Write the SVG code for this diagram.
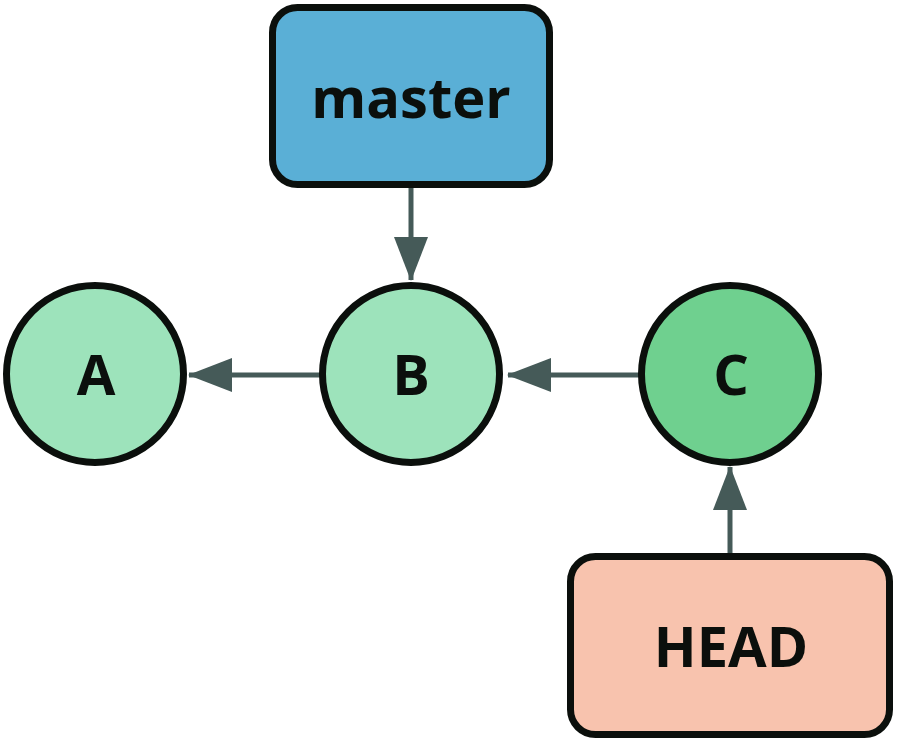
<svg xmlns="http://www.w3.org/2000/svg" width="899" height="745" viewBox="0 0 899 745">
<style>
.box{stroke:#0b0f0c;stroke-width:7}
.commit{stroke:#0b0f0c;stroke-width:7}
.lbl{font-family:"Open Sans","Noto Sans","DejaVu Sans",sans-serif;font-weight:bold;font-size:56px;fill:#0b0f0c;text-anchor:middle}
.edge{stroke:#455a58;stroke-width:5;fill:none}
</style>
<defs>
<marker id="arr" markerUnits="userSpaceOnUse" markerWidth="44" markerHeight="34" refX="43" refY="17" orient="auto">
<path d="M0,0 L44,17 L0,34 Z" fill="#455a58"/>
</marker>
</defs>
<rect width="899" height="745" fill="#ffffff"/>
<g id="connectors">
<line class="edge" x1="411" y1="188" x2="411" y2="280" marker-end="url(#arr)"/>
<line class="edge" x1="322" y1="375" x2="189" y2="375" marker-end="url(#arr)"/>
<line class="edge" x1="640" y1="375" x2="508" y2="375" marker-end="url(#arr)"/>
<line class="edge" x1="730" y1="555" x2="730" y2="467" marker-end="url(#arr)"/>
</g>
<g id="master">
<rect class="box" x="272.5" y="7.5" width="277" height="177" rx="25" fill="#5aafd6"/>
<text class="lbl" x="411" y="118">master</text>
</g>
<g id="A">
<circle class="commit" cx="95" cy="374" r="88.5" fill="#9de3bb"/>
<text class="lbl" x="96" y="395">A</text>
</g>
<g id="B">
<circle class="commit" cx="411" cy="374" r="88.5" fill="#9de3bb"/>
<text class="lbl" x="411" y="395">B</text>
</g>
<g id="C">
<circle class="commit" cx="730" cy="374" r="88.5" fill="#6fd08f"/>
<text class="lbl" x="731" y="395">C</text>
</g>
<g id="HEAD">
<rect class="box" x="570.5" y="556.5" width="319" height="178" rx="25" fill="#f8c3ae"/>
<text class="lbl" x="731" y="667">HEAD</text>
</g>
</svg>
